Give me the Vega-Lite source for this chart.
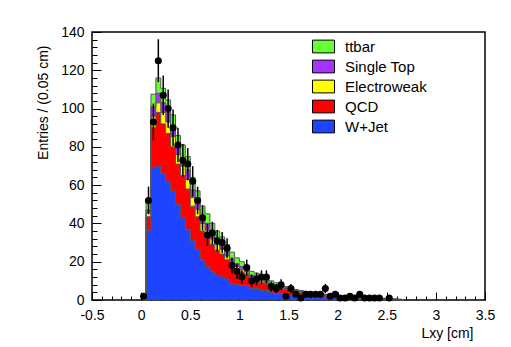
{
  "$schema": "https://vega.github.io/schema/vega-lite/v6.json",
  "width": 393,
  "height": 268,
  "autosize": {"type": "none"},
  "padding": {"left": 92, "top": 32, "right": 26, "bottom": 47},
  "background": "white",
  "config": {
    "font": "Liberation Sans",
    "view": {"stroke": "#000", "strokeWidth": 1.5},
    "axis": {"domain": false, "grid": false, "labelFontSize": 14, "titleFontSize": 14, "titleFontWeight": "normal", "labelColor": "#000", "titleColor": "#000", "tickColor": "#000", "tickWidth": 1, "labelOverlap": false, "labelFlush": false, "labelBound": false}
  },
  "datasets": {
    "mc": [
      {"c": 0.025, "W+Jet": 0, "QCD": 0, "Electroweak": 0, "Single Top": 0, "ttbar": 0},
      {"c": 0.075, "W+Jet": 36.5, "QCD": 7, "Electroweak": 2, "Single Top": 1.5, "ttbar": 5},
      {"c": 0.125, "W+Jet": 69, "QCD": 21, "Electroweak": 6, "Single Top": 5, "ttbar": 6.5},
      {"c": 0.175, "W+Jet": 70, "QCD": 28, "Electroweak": 5, "Single Top": 5, "ttbar": 8},
      {"c": 0.225, "W+Jet": 66, "QCD": 26, "Electroweak": 6, "Single Top": 5, "ttbar": 7.6},
      {"c": 0.275, "W+Jet": 62, "QCD": 25, "Electroweak": 6, "Single Top": 5, "ttbar": 6.5},
      {"c": 0.325, "W+Jet": 57, "QCD": 23, "Electroweak": 5.5, "Single Top": 4.5, "ttbar": 6.7},
      {"c": 0.375, "W+Jet": 50, "QCD": 21, "Electroweak": 5, "Single Top": 4, "ttbar": 6},
      {"c": 0.425, "W+Jet": 43, "QCD": 22, "Electroweak": 5, "Single Top": 4.5, "ttbar": 6.5},
      {"c": 0.475, "W+Jet": 37, "QCD": 21, "Electroweak": 5, "Single Top": 5, "ttbar": 7},
      {"c": 0.525, "W+Jet": 31, "QCD": 18, "Electroweak": 4.5, "Single Top": 4, "ttbar": 6.5},
      {"c": 0.575, "W+Jet": 26.5, "QCD": 17, "Electroweak": 4, "Single Top": 4, "ttbar": 5.5},
      {"c": 0.625, "W+Jet": 21, "QCD": 15, "Electroweak": 4, "Single Top": 3.5, "ttbar": 5.5},
      {"c": 0.675, "W+Jet": 17.5, "QCD": 15, "Electroweak": 4, "Single Top": 3.5, "ttbar": 5},
      {"c": 0.725, "W+Jet": 15, "QCD": 14, "Electroweak": 3, "Single Top": 3, "ttbar": 5},
      {"c": 0.775, "W+Jet": 13, "QCD": 13, "Electroweak": 3, "Single Top": 2.5, "ttbar": 4.5},
      {"c": 0.825, "W+Jet": 12, "QCD": 12, "Electroweak": 2.5, "Single Top": 2.5, "ttbar": 4},
      {"c": 0.875, "W+Jet": 11, "QCD": 10, "Electroweak": 2, "Single Top": 2, "ttbar": 4},
      {"c": 0.925, "W+Jet": 8.5, "QCD": 9, "Electroweak": 2, "Single Top": 2, "ttbar": 3.5},
      {"c": 0.975, "W+Jet": 8, "QCD": 8, "Electroweak": 1.5, "Single Top": 1.5, "ttbar": 3},
      {"c": 1.025, "W+Jet": 7.5, "QCD": 7, "Electroweak": 1.5, "Single Top": 1.5, "ttbar": 2.5},
      {"c": 1.075, "W+Jet": 7.5, "QCD": 6, "Electroweak": 1.2, "Single Top": 1.3, "ttbar": 2},
      {"c": 1.125, "W+Jet": 6, "QCD": 5, "Electroweak": 1, "Single Top": 1, "ttbar": 2},
      {"c": 1.175, "W+Jet": 6, "QCD": 4.5, "Electroweak": 1, "Single Top": 1, "ttbar": 1.5},
      {"c": 1.225, "W+Jet": 5, "QCD": 4, "Electroweak": 1, "Single Top": 1, "ttbar": 1.5},
      {"c": 1.275, "W+Jet": 5, "QCD": 3.5, "Electroweak": 0.8, "Single Top": 0.8, "ttbar": 1.4},
      {"c": 1.325, "W+Jet": 4, "QCD": 3, "Electroweak": 0.8, "Single Top": 0.8, "ttbar": 1.4},
      {"c": 1.375, "W+Jet": 3.5, "QCD": 3, "Electroweak": 0.7, "Single Top": 0.7, "ttbar": 1.1},
      {"c": 1.425, "W+Jet": 3.5, "QCD": 2.5, "Electroweak": 0.6, "Single Top": 0.5, "ttbar": 0.9},
      {"c": 1.475, "W+Jet": 3.5, "QCD": 2, "Electroweak": 0.5, "Single Top": 0.4, "ttbar": 0.6},
      {"c": 1.525, "W+Jet": 2.5, "QCD": 2, "Electroweak": 0.5, "Single Top": 0.4, "ttbar": 0.6},
      {"c": 1.575, "W+Jet": 2, "QCD": 2, "Electroweak": 0.5, "Single Top": 0.4, "ttbar": 0.6},
      {"c": 1.625, "W+Jet": 2, "QCD": 1.8, "Electroweak": 0.4, "Single Top": 0.3, "ttbar": 0.5},
      {"c": 1.675, "W+Jet": 2, "QCD": 1.5, "Electroweak": 0.3, "Single Top": 0.3, "ttbar": 0.4},
      {"c": 1.725, "W+Jet": 2, "QCD": 1.2, "Electroweak": 0.3, "Single Top": 0.2, "ttbar": 0.3},
      {"c": 1.775, "W+Jet": 2, "QCD": 1.2, "Electroweak": 0.3, "Single Top": 0.2, "ttbar": 0.3},
      {"c": 1.825, "W+Jet": 2, "QCD": 0.9, "Electroweak": 0.2, "Single Top": 0.2, "ttbar": 0.2},
      {"c": 1.875, "W+Jet": 1.5, "QCD": 0.9, "Electroweak": 0.2, "Single Top": 0.2, "ttbar": 0.2},
      {"c": 1.925, "W+Jet": 1.5, "QCD": 0.8, "Electroweak": 0.2, "Single Top": 0.2, "ttbar": 0.3},
      {"c": 1.975, "W+Jet": 1.5, "QCD": 0.5, "Electroweak": 0.2, "Single Top": 0.1, "ttbar": 0.2},
      {"c": 2.025, "W+Jet": 1.2, "QCD": 0.5, "Electroweak": 0.2, "Single Top": 0.1, "ttbar": 0.2},
      {"c": 2.075, "W+Jet": 1, "QCD": 0.5, "Electroweak": 0.2, "Single Top": 0.1, "ttbar": 0.2},
      {"c": 2.125, "W+Jet": 1, "QCD": 0.4, "Electroweak": 0.1, "Single Top": 0.1, "ttbar": 0.2},
      {"c": 2.175, "W+Jet": 0.8, "QCD": 0.4, "Electroweak": 0.1, "Single Top": 0.1, "ttbar": 0.2},
      {"c": 2.225, "W+Jet": 0.6, "QCD": 0.4, "Electroweak": 0.2, "Single Top": 0.1, "ttbar": 0.2},
      {"c": 2.275, "W+Jet": 0.6, "QCD": 0.4, "Electroweak": 0.1, "Single Top": 0.1, "ttbar": 0.2},
      {"c": 2.325, "W+Jet": 0.6, "QCD": 0.4, "Electroweak": 0.1, "Single Top": 0.1, "ttbar": 0.1},
      {"c": 2.375, "W+Jet": 0.5, "QCD": 0.4, "Electroweak": 0.1, "Single Top": 0.1, "ttbar": 0.1},
      {"c": 2.425, "W+Jet": 0.5, "QCD": 0.3, "Electroweak": 0.1, "Single Top": 0, "ttbar": 0.1},
      {"c": 2.475, "W+Jet": 0.4, "QCD": 0.3, "Electroweak": 0.1, "Single Top": 0, "ttbar": 0.1},
      {"c": 2.525, "W+Jet": 0.3, "QCD": 0.3, "Electroweak": 0, "Single Top": 0, "ttbar": 0.2},
      {"c": 2.575, "W+Jet": 0.2, "QCD": 0.2, "Electroweak": 0, "Single Top": 0, "ttbar": 0.2},
      {"c": 2.625, "W+Jet": 0.1, "QCD": 0.2, "Electroweak": 0, "Single Top": 0, "ttbar": 0.1},
      {"c": 2.675, "W+Jet": 0, "QCD": 0, "Electroweak": 0, "Single Top": 0, "ttbar": 0}
    ],
    "pts": [
      {"c": 0.025, "y": 2, "lo": 0.6, "hi": 3.4},
      {"c": 0.075, "y": 52, "lo": 44.8, "hi": 59.2},
      {"c": 0.125, "y": 93, "lo": 83.4, "hi": 102.6},
      {"c": 0.175, "y": 125, "lo": 113.8, "hi": 136.2},
      {"c": 0.225, "y": 107, "lo": 96.7, "hi": 117.3},
      {"c": 0.275, "y": 100, "lo": 90, "hi": 110},
      {"c": 0.325, "y": 90, "lo": 80.5, "hi": 99.5},
      {"c": 0.375, "y": 81, "lo": 72, "hi": 90},
      {"c": 0.425, "y": 73, "lo": 64.5, "hi": 81.5},
      {"c": 0.475, "y": 71, "lo": 62.6, "hi": 79.4},
      {"c": 0.525, "y": 62, "lo": 54.1, "hi": 69.9},
      {"c": 0.575, "y": 52, "lo": 44.8, "hi": 59.2},
      {"c": 0.625, "y": 43, "lo": 36.4, "hi": 49.6},
      {"c": 0.675, "y": 34, "lo": 28.2, "hi": 39.8},
      {"c": 0.725, "y": 35, "lo": 29.1, "hi": 40.9},
      {"c": 0.775, "y": 31, "lo": 25.4, "hi": 36.6},
      {"c": 0.825, "y": 30, "lo": 24.5, "hi": 35.5},
      {"c": 0.875, "y": 27, "lo": 21.8, "hi": 32.2},
      {"c": 0.925, "y": 18, "lo": 13.8, "hi": 22.2},
      {"c": 0.975, "y": 15, "lo": 11.1, "hi": 18.9},
      {"c": 1.025, "y": 12, "lo": 8.5, "hi": 15.5},
      {"c": 1.075, "y": 17, "lo": 12.9, "hi": 21.1},
      {"c": 1.125, "y": 10, "lo": 6.8, "hi": 13.2},
      {"c": 1.175, "y": 11, "lo": 7.7, "hi": 14.3},
      {"c": 1.225, "y": 12, "lo": 8.5, "hi": 15.5},
      {"c": 1.275, "y": 12, "lo": 8.5, "hi": 15.5},
      {"c": 1.325, "y": 7, "lo": 4.4, "hi": 9.6},
      {"c": 1.375, "y": 6, "lo": 3.6, "hi": 8.4},
      {"c": 1.425, "y": 8, "lo": 5.2, "hi": 10.8},
      {"c": 1.475, "y": 2, "lo": 0.6, "hi": 3.4},
      {"c": 1.525, "y": 6, "lo": 3.6, "hi": 8.4},
      {"c": 1.575, "y": 3, "lo": 1.3, "hi": 4.7},
      {"c": 1.625, "y": 1, "lo": 0, "hi": 2},
      {"c": 1.675, "y": 3, "lo": 1.3, "hi": 4.7},
      {"c": 1.725, "y": 3, "lo": 1.3, "hi": 4.7},
      {"c": 1.775, "y": 3, "lo": 1.3, "hi": 4.7},
      {"c": 1.825, "y": 3, "lo": 1.3, "hi": 4.7},
      {"c": 1.875, "y": 6, "lo": 3.6, "hi": 8.4},
      {"c": 1.925, "y": 2, "lo": 0.6, "hi": 3.4},
      {"c": 1.975, "y": 3, "lo": 1.3, "hi": 4.7},
      {"c": 2.025, "y": 1, "lo": 0, "hi": 2},
      {"c": 2.075, "y": 1, "lo": 0, "hi": 2},
      {"c": 2.125, "y": 2, "lo": 0.6, "hi": 3.4},
      {"c": 2.175, "y": 1, "lo": 0, "hi": 2},
      {"c": 2.225, "y": 3, "lo": 1.3, "hi": 4.7},
      {"c": 2.275, "y": 1, "lo": 0, "hi": 2},
      {"c": 2.325, "y": 1, "lo": 0, "hi": 2},
      {"c": 2.375, "y": 1, "lo": 0, "hi": 2},
      {"c": 2.425, "y": 1, "lo": 0, "hi": 2},
      {"c": 2.525, "y": 1, "lo": 0, "hi": 2}
    ]
  },
  "encoding": {
    "x": {
      "field": "c", "type": "quantitative",
      "scale": {"domain": [-0.5, 3.5], "nice": false, "zero": false},
      "axis": {
        "title": "Lxy [cm]",
        "values": [-0.5,-0.4,-0.3,-0.2,-0.1,0,0.1,0.2,0.3,0.4,0.5,0.6,0.7,0.8,0.9,1,1.1,1.2,1.3,1.4,1.5,1.6,1.7,1.8,1.9,2,2.1,2.2,2.3,2.4,2.5,2.6,2.7,2.8,2.9,3,3.1,3.2,3.3,3.4,3.5],
        "labelExpr": "abs(datum.value*2-round(datum.value*2))<0.001 ? replace(format(datum.value, '.1~f'), '\u2212', '-') : ''",
        "tickSize": {"condition": {"test": "abs(datum.value*2-round(datum.value*2))<0.001", "value": -8}, "value": -4},
        "labelPadding": 16,
        "labelOverlap": false,
        "titleAnchor": "end",
        "titleAlign": "right",
        "titleX": 381,
        "titleY": 26,
        "titleBaseline": "top"
      }
    },
    "y": {
      "field": "y", "type": "quantitative",
      "scale": {"domain": [0, 140], "nice": false, "zero": false},
      "axis": {
        "title": "Entries / (0.05 cm)",
        "values": [0,4,8,12,16,20,24,28,32,36,40,44,48,52,56,60,64,68,72,76,80,84,88,92,96,100,104,108,112,116,120,124,128,132,136,140],
        "labelExpr": "abs(datum.value/20-round(datum.value/20))<0.001 ? format(datum.value, 'd') : ''",
        "tickSize": {"condition": {"test": "abs(datum.value/20-round(datum.value/20))<0.001", "value": -9}, "value": -5},
        "labelPadding": 17,
        "labelOverlap": false,
        "titleAnchor": "end",
        "titleAlign": "right",
        "titleAngle": -90,
        "titleX": -49,
        "titleY": 13,
        "titleBaseline": "middle"
      }
    }
  },
  "layer": [
    {
      "data": {"name": "mc"},
      "transform": [
        {"fold": ["W+Jet", "QCD", "Electroweak", "Single Top", "ttbar"], "as": ["proc", "v"]},
        {"calculate": "indexof(['W+Jet','QCD','Electroweak','Single Top','ttbar'], datum.proc)", "as": "ord"},
        {"stack": "v", "groupby": ["c"], "sort": [{"field": "ord", "order": "ascending"}], "as": ["y0", "y"]}
      ],
      "layer": [
        {
          "mark": {"type": "area", "interpolate": "step", "opacity": 1},
          "encoding": {
            "y2": {"field": "y0"},
            "color": {
              "field": "proc", "type": "nominal",
              "scale": {"domain": ["ttbar", "Single Top", "Electroweak", "QCD", "W+Jet"], "range": ["#66ff33", "#a633ff", "#ffff00", "#ff0000", "#1f44ff"]},
              "legend": {
                "title": null,
                "orient": "none",
                "legendX": 220,
                "legendY": 3,
                "symbolType": "M-1,-0.58H1V0.58H-1Z",
                "symbolSize": 484,
                "symbolStrokeColor": "#000",
                "symbolStrokeWidth": 1,
                "symbolOpacity": 1,
                "labelFontSize": 15,
                "labelColor": "#000",
                "labelOffset": 10,
                "rowPadding": 0
              }
            }
          }
        },
        {
          "mark": {"type": "line", "interpolate": "step", "color": "#555555", "strokeWidth": 1},
          "encoding": {
            "detail": {"field": "proc"}
          }
        }
      ]
    },
    {
      "data": {"name": "pts"},
      "layer": [
        {
          "mark": {"type": "rule", "color": "#000", "strokeWidth": 1.5},
          "encoding": {"y2": {"field": "hi"}}
        },
        {
          "mark": {"type": "rule", "color": "#000", "strokeWidth": 1.5},
          "encoding": {"y2": {"field": "lo"}}
        },
        {
          "mark": {"type": "circle", "color": "#000", "size": 50, "opacity": 1},
          "encoding": {}
        }
      ]
    }
  ]
}
